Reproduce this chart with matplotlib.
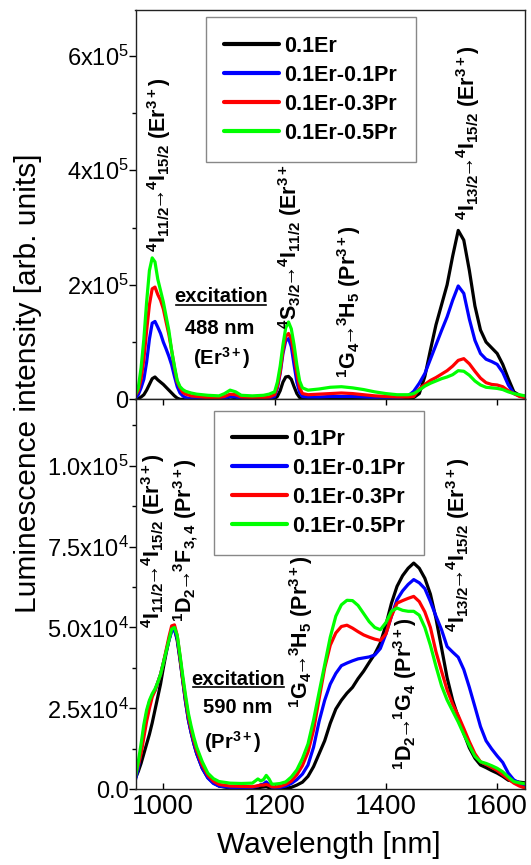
import matplotlib
matplotlib.use('Agg')
import numpy as np
import matplotlib.pyplot as plt
from matplotlib.ticker import FixedLocator, FixedFormatter, MultipleLocator

plt.rcParams.update({
    'font.family': ['Liberation Sans', 'DejaVu Sans'],
    'mathtext.fontset': 'custom',
    'mathtext.rm': 'Liberation Sans',
    'mathtext.bf': 'Liberation Sans:bold',
    'mathtext.it': 'Liberation Sans:italic',
    'mathtext.default': 'bf',
})

# ---------------- data ----------------
UNIT_TOP = 1e4   # top-panel values are in units of 1e4 arb. units
UNIT_BOT = 1e3   # bottom-panel values are in units of 1e3 arb. units

# top panel: excitation 488 nm
wl_top = [950, 955, 960, 965, 970, 975, 980, 985, 990, 995, 1000, 1005, 1010, 1015, 1020, 1025, 1030, 1035, 1040,
          1050, 1060, 1080, 1100, 1110, 1120, 1130, 1140, 1160, 1180, 1190,
          1200, 1205, 1210, 1215, 1220, 1225, 1230, 1235, 1240, 1245, 1250,
          1260, 1280, 1300, 1320, 1340, 1360, 1380, 1400, 1420, 1440,
          1450, 1460, 1470, 1480, 1490, 1500, 1510, 1520, 1530, 1540, 1550, 1560, 1570, 1580, 1590, 1600,
          1610, 1620, 1630, 1640, 1650]

top_er = [0.0, 0.1, 0.4, 0.8, 1.6, 2.6, 3.6, 3.9, 3.4, 3.0, 2.6, 2.1, 1.6, 1.1, 0.6, 0.2, 0.0, 0.0, 0.0,
          0.0, 0.0, 0.0, 0.1, 0.2, 0.4, 0.3, 0.1, 0.0, 0.0, 0.0,
          0.1, 0.5, 1.5, 3.0, 3.9, 4.0, 3.5, 2.2, 1.0, 0.3, 0.1,
          0.0, 0.0, 0.0, 0.0, 0.0, 0.0, 0.0, 0.0, 0.0, 0.1,
          0.3, 1.0, 4.0, 8.6, 13.0, 16.5, 20.0, 25.0, 29.5, 27.8, 22.5, 16.3, 12.1, 10.0, 9.0, 8.0,
          6.1, 3.6, 1.3, 0.7, 0.5]

top_er_01pr = [0.2, 0.8, 2.0, 3.5, 6.5, 10.5, 13.3, 13.6, 12.6, 11.5, 10.0, 8.8, 7.5, 6.0, 4.0, 2.2, 1.1, 0.6, 0.3,
               0.1, 0.1, 0.1, 0.1, 0.2, 0.5, 0.4, 0.1, 0.1, 0.1, 0.2,
               0.5, 2.0, 4.5, 8.0, 10.2, 10.6, 9.2, 6.0, 3.0, 1.2, 0.5,
               0.4, 0.4, 0.5, 0.5, 0.5, 0.4, 0.3, 0.2, 0.2, 0.6,
               1.4, 2.8, 4.5, 7.0, 9.5, 12.0, 14.4, 17.3, 19.8, 18.5, 14.0, 10.3, 8.0, 7.0, 6.6, 6.1,
               4.7, 2.5, 1.0, 0.6, 0.4]

top_er_03pr = [0.7, 1.5, 3.5, 7.0, 12.0, 16.5, 19.3, 19.6, 18.3, 17.3, 15.8, 13.5, 11.3, 8.5, 5.5, 3.0, 2.0, 1.2, 0.9,
               0.6, 0.5, 0.3, 0.3, 0.5, 0.9, 0.8, 0.4, 0.3, 0.3, 0.4,
               0.8, 2.3, 4.8, 8.5, 11.0, 11.5, 10.6, 7.8, 4.5, 2.0, 1.0,
               0.8, 0.9, 1.0, 1.1, 1.0, 0.8, 0.6, 0.5, 0.4, 0.4,
               0.5, 1.8, 2.6, 3.3, 3.8, 4.4, 5.0, 5.8, 6.8, 7.1, 6.2, 4.9, 3.7, 2.9, 2.6, 2.5,
               2.2, 1.5, 1.0, 0.5, 0.3]

top_er_05pr = [0.8, 2.0, 5.5, 10.5, 17.0, 22.5, 24.7, 24.0, 21.0, 19.0, 17.0, 14.5, 12.0, 8.5, 5.8, 3.3, 2.2, 1.7, 1.4,
               1.1, 0.9, 0.7, 0.6, 1.0, 1.6, 1.3, 0.7, 0.6, 0.7, 0.9,
               1.3, 3.0, 5.8, 9.5, 12.5, 13.5, 12.3, 9.5, 6.0, 3.2, 2.0,
               1.6, 1.8, 2.1, 2.2, 2.0, 1.7, 1.3, 1.0, 0.8, 0.8,
               1.0, 1.6, 2.3, 2.8, 3.2, 3.6, 3.9, 4.3, 5.0, 4.9, 4.2, 3.2, 2.5, 2.1, 2.0, 1.9,
               1.7, 1.3, 1.0, 0.8, 0.6]

# bottom panel: excitation 590 nm
wl_bot = [950, 955, 960, 965, 970, 975, 980, 985, 990, 995, 1000, 1005, 1010, 1015, 1020, 1025, 1030, 1035, 1040,
          1045, 1050, 1055, 1060,
          1070, 1080, 1090, 1100, 1120, 1140, 1160,
          1170, 1175, 1180, 1185, 1190, 1195, 1200,
          1210, 1220, 1230, 1240, 1250, 1260, 1270, 1280, 1290, 1300,
          1310, 1320, 1330, 1340, 1350, 1360, 1370, 1380, 1390, 1400,
          1410, 1420, 1430, 1440, 1450, 1460, 1470, 1480, 1490, 1500,
          1510, 1520, 1530, 1540, 1550, 1560, 1570, 1580, 1590, 1600,
          1610, 1620, 1630, 1640, 1650]

bot_pr = [3.5, 5.5, 8.0, 11.0, 14.0, 17.0, 20.5, 24.5, 28.5, 32.5, 37.5, 42.0, 46.0, 49.3, 49.8, 46.0, 40.0, 33.5, 27.0,
          21.5, 17.5, 14.0, 11.0,
          6.5, 3.6, 2.0, 1.0, 0.4, 0.2, 0.2,
          0.4, 0.6, 0.7, 0.8, 0.5, 0.3, 0.2,
          0.2, 0.3, 0.6, 1.3, 2.2, 4.0, 7.0, 11.0, 15.0, 20.4,
          24.8, 27.5, 29.7, 31.5, 34.2, 36.5, 39.2, 41.8, 45.2, 50.8,
          57.5, 62.7, 66.0, 68.3, 69.9, 68.3, 65.2, 60.3, 52.8, 43.7,
          34.5, 27.5, 22.3, 17.3, 12.8, 9.6, 7.5, 6.7, 5.8, 5.0,
          4.0, 2.8, 2.5, 2.2, 2.0]

bot_er_01pr = [3.0, 6.5, 12.0, 18.5, 23.5, 27.0, 29.0, 30.5, 33.0, 35.5, 39.0, 42.5, 46.0, 48.8, 49.2, 46.5, 40.5, 33.5, 27.0,
               21.5, 17.5, 14.0, 11.0,
               6.5, 3.5, 1.8, 1.0, 0.6, 0.5, 0.6,
               1.0, 1.4, 1.6, 2.3, 1.4, 0.6, 0.5,
               0.6, 1.0, 1.8, 3.0, 4.7, 7.5, 13.0, 21.0, 27.5, 32.5,
               35.8, 38.2, 39.0, 39.7, 40.3, 40.6, 40.9, 41.5, 43.5, 48.0,
               53.5, 58.6, 61.3, 63.3, 64.8, 63.8, 62.0, 58.0, 53.5, 49.3,
               44.1, 42.4, 40.8, 37.0, 31.5, 25.5, 19.4, 15.0, 12.5, 10.3,
               8.3, 5.0, 2.9, 2.0, 1.0]

bot_er_03pr = [4.5, 7.5, 11.0, 16.0, 21.0, 25.0, 28.5, 30.5, 33.0, 35.5, 39.0, 43.0, 47.0, 50.5, 50.8, 47.5, 41.0, 34.0, 28.0,
               22.5, 18.5, 15.0, 12.0,
               7.5, 4.3, 2.5, 1.5, 1.0, 0.9, 0.8,
               1.1, 1.3, 1.3, 1.5, 1.2, 0.8, 0.7,
               0.9, 1.5, 2.5, 4.5, 7.3, 11.5, 18.3, 28.0, 37.5, 44.5,
               48.3, 50.3, 50.7, 49.8, 48.7, 47.7, 47.0, 46.4, 46.0, 48.0,
               53.5, 57.5, 58.3, 59.0, 59.6, 58.0, 54.8, 50.0, 42.5, 36.5,
               30.7, 26.3, 22.8, 18.8, 14.7, 11.0, 8.5, 7.7, 6.8, 5.8,
               4.5, 3.2, 1.9, 1.0, 0.4]

bot_er_05pr = [4.0, 8.5, 14.0, 20.0, 24.5, 27.5, 29.5, 31.0, 33.0, 35.5, 39.0, 42.5, 46.0, 49.5, 50.0, 47.5, 41.5, 35.0, 29.0,
               23.5, 19.5, 16.0, 13.0,
               8.5, 5.0, 3.3, 2.4, 1.9, 1.8, 1.9,
               3.2, 2.6, 3.0, 4.3, 3.2, 1.6, 1.6,
               1.8, 2.3, 3.8, 6.0, 9.5, 14.0, 21.4, 30.0, 38.5, 47.0,
               53.5, 57.0, 58.4, 58.3, 56.8, 54.3, 51.8, 50.0, 49.3, 51.5,
               55.0, 56.0, 55.3, 55.0, 55.0, 53.8, 50.0, 44.5, 38.0, 32.0,
               27.6, 24.2, 20.8, 17.0, 13.5, 10.2, 8.5, 8.0, 7.3, 6.5,
               5.4, 3.8, 2.4, 2.0, 1.7]

colors = ['#000000', '#0000FF', '#FF0000', '#00FF00']
labels_top = ['0.1Er', '0.1Er-0.1Pr', '0.1Er-0.3Pr', '0.1Er-0.5Pr']
labels_bot = ['0.1Pr', '0.1Er-0.1Pr', '0.1Er-0.3Pr', '0.1Er-0.5Pr']

xticks = [1000, 1200, 1400, 1600]
xtick_labels = ['1000', '1200', '1400', '1600']
yticks_top = [0, 2e5, 4e5, 6e5]
ytick_labels_top = ['0', r'2x10$^{\mathregular{5}}$', r'4x10$^{\mathregular{5}}$', r'6x10$^{\mathregular{5}}$']
yticks_bot = [0, 2.5e4, 5e4, 7.5e4, 1e5]
ytick_labels_bot = ['0.0', r'2.5x10$^{\mathregular{4}}$', r'5.0x10$^{\mathregular{4}}$',
                    r'7.5x10$^{\mathregular{4}}$', r'1.0x10$^{\mathregular{5}}$']

# ---------------- figure ----------------
W_PX, H_PX = 531, 865
fig = plt.figure(figsize=(W_PX / 100, H_PX / 100), dpi=100)
left = 135.5 / W_PX
width = (525 - 135.5) / W_PX
ax1 = fig.add_axes([left, 1 - 399.3 / H_PX, width, (399.3 - 10) / H_PX])
ax2 = fig.add_axes([left, 1 - 789.3 / H_PX, width, (789.3 - 399.3) / H_PX])

for ax, wl, series, labs, unit, anchor in [
        (ax1, wl_top, [top_er, top_er_01pr, top_er_03pr, top_er_05pr], labels_top, UNIT_TOP, (0.181, 0.981)),
        (ax2, wl_bot, [bot_pr, bot_er_01pr, bot_er_03pr, bot_er_05pr], labels_bot, UNIT_BOT, (0.2015, 0.971))]:
    for vals, c, lab in zip(series, colors, labs):
        ax.plot(wl, np.asarray(vals) * unit, color=c, lw=2.3, label=lab,
                solid_joinstyle='round', solid_capstyle='round')
    ax.set_xlim(950, 1650)
    for sp in ax.spines.values():
        sp.set_linewidth(1.0)
        sp.set_color('#222222')
    leg = ax.legend(loc='upper left', bbox_to_anchor=anchor,
                    borderaxespad=0, prop={'weight': 'bold', 'size': 15.5}, handlelength=2.55,
                    handletextpad=0.25, labelspacing=0.37, borderpad=0.85, fancybox=False,
                    edgecolor='#888888', framealpha=1)
    leg.get_frame().set_linewidth(1.0)
    for h in leg.get_lines():
        h.set_linewidth(3.0)

ax1.set_ylim(0, 6.8e5)
ax2.set_ylim(0, 1.205e5)

ax1.yaxis.set_major_locator(FixedLocator(yticks_top))
ax1.yaxis.set_major_formatter(FixedFormatter(ytick_labels_top))
ax1.yaxis.set_minor_locator(MultipleLocator(1e5))
ax2.yaxis.set_major_locator(FixedLocator(yticks_bot))
ax2.yaxis.set_major_formatter(FixedFormatter(ytick_labels_bot))
ax2.yaxis.set_minor_locator(MultipleLocator(1.25e4))

for ax in (ax1, ax2):
    ax.xaxis.set_major_locator(FixedLocator(xticks))
    ax.xaxis.set_major_formatter(FixedFormatter(xtick_labels))
    ax.tick_params(axis='y', which='major', direction='out', length=5, width=1.0, labelsize=17, pad=0)
    ax.tick_params(axis='y', which='minor', direction='out', length=3, width=1.0)
ax1.tick_params(axis='x', which='both', bottom=False, labelbottom=False)
ax2.tick_params(axis='x', which='major', direction='in', top=True, bottom=True, length=4, width=1.0,
                labelsize=20, pad=3.5)

fig.text(329 / W_PX, 1 - 845 / H_PX, 'Wavelength [nm]', ha='center', va='center', fontsize=21.5)
fig.text(28 / W_PX, 1 - 383 / H_PX, 'Luminescence intensity [arb. units]', ha='center', va='center',
         rotation=90, fontsize=21.5)

# ---------------- annotations ----------------
ann = dict(ha='center', va='center', rotation=90, fontsize=15.5, fontweight='bold')
ARR = r'\!\!\rightarrow\!\!'
ax1.text(992, 4.09e5, r'${}^4I_{11/2}' + ARR + r'{}^4I_{15/2}$ (Er$^{3+}$)', **ann)
ax1.text(1228, 2.74e5, r'${}^4S_{3/2}' + ARR + r'{}^4I_{11/2}$ (Er$^{3+}$)', **ann)
ax1.text(1334, 1.70e5, r'${}^1G_4' + ARR + r'{}^3H_5$ (Pr$^{3+}$)', **ann)
ax1.text(1547, 4.66e5, r'${}^4I_{13/2}' + ARR + r'{}^4I_{15/2}$ (Er$^{3+}$)', **ann)

ex = dict(ha='center', va='center', fontsize=14.5, fontweight='bold')
ax1.text(1104, 1.79e5, 'excitation', **ex)
ax1.plot([1023, 1185], [1.646e5, 1.646e5], color='k', lw=1.2)
ax1.text(1102, 1.24e5, '488 nm', **ex)
ax1.text(1105, 0.72e5, r'(Er$^{3+}$)', **ex)

ax2.text(981, 7.68e4, r'${}^4I_{11/2}' + ARR + r'{}^4I_{15/2}$ (Er$^{3+}$)', **ann)
ax2.text(1041, 7.71e4, r'${}^1D_2' + ARR + r'{}^3F_{3,4}$ (Pr$^{3+}$)', **ann)
ax2.text(1248, 4.86e4, r'${}^1G_4' + ARR + r'{}^3H_5$ (Pr$^{3+}$)', **ann)
ax2.text(1435, 2.95e4, r'${}^1D_2' + ARR + r'{}^1G_4$ (Pr$^{3+}$)', **ann)
ax2.text(1530, 7.56e4, r'${}^4I_{13/2}' + ARR + r'{}^4I_{15/2}$ (Er$^{3+}$)', **ann)

ax2.text(1135, 3.38e4, 'excitation', **ex)
ax2.plot([1054, 1216], [3.165e4, 3.165e4], color='k', lw=1.2)
ax2.text(1134, 2.52e4, '590 nm', **ex)
ax2.text(1125, 1.45e4, r'(Pr$^{3+}$)', **ex)

fig.savefig('out.png', dpi=100)
